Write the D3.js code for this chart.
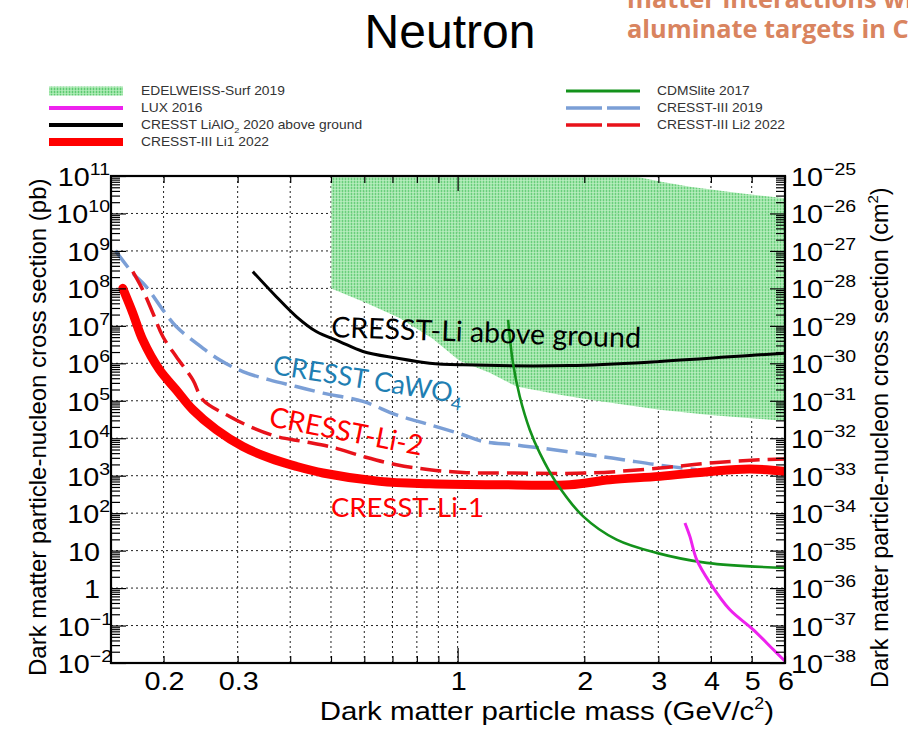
<!DOCTYPE html>
<html><head><meta charset="utf-8">
<script src="https://cdn.jsdelivr.net/npm/d3@7"></script>
<style>body{margin:0;background:#fff}svg{display:block}</style>
</head><body>
<svg id="c" width="908" height="729"></svg>
<script>
// ---------- data ----------
const xDomain = [0.15, 6];
const yDomainPb = [1e-2, 1e11];
const yDomainCm2 = [1e-38, 1e-25];
const xTicks = [0.2,0.3,0.4,0.5,0.6,0.7,0.8,0.9,1,2,3,4,5,6];
const xTickLabels = ["0.2","0.3","","","","","","","1","2","3","4","5","6"];
const yExpPb = [11,10,9,8,7,6,5,4,3,2,1,0,-1,-2];
const yExpCm2 = [-25,-26,-27,-28,-29,-30,-31,-32,-33,-34,-35,-36,-37,-38];

const li1Mass  = [0.160,0.169,0.1785,0.1956,0.2143,0.2348,0.2668,0.3087,0.3573,0.4136,0.4785,0.6528,0.858,1.237,1.848,2.30,3.025,3.98,4.953,6.0];
const li1Sigma = [1.0e8,2.2e7,4.2e6,6.7e5,1.96e5,5.75e4,1.69e4,6.0e3,2.96e3,1.77e3,1.18e3,705,612,575,575,782,958,1.30e3,1.51e3,1.30e3];

const li2Mass  = [0.169,0.1785,0.1886,0.1992,0.2143,0.2348,0.2480,0.2871,0.3202,0.3707,0.4288,0.4963,0.5957,0.7153,0.858,1.03,1.354,2.062,3.025,3.98,5.23,6.0];
const li2Sigma = [2.8e8,9.1e7,2.2e7,5.2e6,1.52e6,3.6e5,1.06e5,3.8e4,2.07e4,1.12e4,8.2e3,6.0e3,3.27e3,1.96e3,1.45e3,1.22e3,1.18e3,1.18e3,1.6e3,2.18e3,2.67e3,2.79e3];

const caMass  = [0.1537,0.169,0.1818,0.1992,0.2143,0.2392,0.2716,0.3087,0.3573,0.4136,0.4785,0.5957,0.7153,0.858,1.03,1.149,1.354,1.568,2.062,2.474,2.971,3.70];
const caSigma = [1.02e9,2.54e8,1.12e8,2.67e7,9.6e6,3.46e6,1.24e6,6.0e5,3.6e5,2.4e5,1.6e5,9.6e4,4.2e4,2.3e4,1.24e4,8.2e3,6.7e3,5.5e3,3.6e3,2.67e3,1.96e3,1.45e3];

const aboveMass  = [0.326,0.3707,0.4136,0.4613,0.5243,0.5957,0.7153,0.858,1.03,1.848,3.025,5.23,6.0];
const aboveSigma = [2.8e8,6.0e7,1.77e7,7.05e6,3.81e6,2.07e6,1.38e6,1.01e6,9.1e5,8.7e5,1.12e6,1.69e6,1.87e6];

const cdmsMass  = [1.318,1.354,1.405,1.484,1.568,1.718,1.988,2.387,2.971,3.907,6.0];
const cdmsSigma = [1.45e7,1.01e6,1.30e5,1.69e4,4.0e3,638,82,19.6,8.7,4.7,3.46];

const luxMass  = [3.47,3.565,3.70,3.98,4.434,5.04,5.626,6.0];
const luxSigma = [54.8,24,5.75,1.38,0.267,0.078,0.0229,0.0112];

const edwLowMass  = [0.501,0.607,0.728,0.873,1.01,1.192,1.380,1.750,2.062,3.025,3.98,6.0];
const edwLowSigma = [1.0e8,4.1e7,1.63e7,4.5e6,1.17e6,5.6e5,2.4e5,1.45e5,1.06e5,5.75e4,4.2e4,2.9e4];
const edwUpMass   = [0.501,2.61,3.025,3.565,4.69,6.0];
const edwUpSigma  = [1.0e11,1.0e11,7.1e10,5.2e10,3.46e10,2.54e10];

const legendLeft  = ["EDELWEISS-Surf 2019","LUX 2016","CRESST LiAlO|2| 2020 above ground","CRESST-III Li1 2022"];
const legendRight = ["CDMSlite 2017","CRESST-III 2019","CRESST-III Li2 2022"];

// ---------- setup ----------
const svg = d3.select("#c");
const L=111, R=785, T=176, B=663;
const SX = 1.15;
const sans = "'Liberation Sans', Arial, Helvetica, sans-serif";
const x = d3.scaleLog().domain(xDomain).range([L,R]);
const y = d3.scaleLog().domain(yDomainPb).range([B,T]);
const yR = d3.scaleLog().domain(yDomainCm2).range([B,T]);
const zip = (m,s)=>m.map((v,i)=>[v,s[i]]);

const defs = svg.append("defs");
defs.append("clipPath").attr("id","plot").append("rect").attr("x",L).attr("y",T).attr("width",R-L).attr("height",B-T);
const pat = defs.append("pattern").attr("id","edw").attr("width",3).attr("height",3).attr("patternUnits","userSpaceOnUse");
pat.append("rect").attr("width",3).attr("height",3).attr("fill","#98e3a3");
pat.append("rect").attr("width",1).attr("height",3).attr("fill","#5fca72");
pat.append("rect").attr("width",3).attr("height",1).attr("fill","#c2f0c7").attr("opacity",0.6);

// title texts
svg.append("text").attr("x",450).attr("y",48).attr("text-anchor","middle")
  .attr("font-family",sans).attr("font-size",48).attr("fill","#000").text("Neutron");
const orange = "#d9845f";
svg.append("text").attr("x",627).attr("y",8).attr("font-family","'Open Sans', sans-serif").attr("font-weight",700)
  .attr("font-size",25.4).attr("fill",orange).text("matter interactions with lithium");
svg.append("text").attr("x",627).attr("y",38).attr("font-family","'Open Sans', sans-serif").attr("font-weight",700)
  .attr("font-size",25.4).attr("fill",orange).text("aluminate targets in CRESST");

// ---------- legend ----------
const legRowY = [91,108,125,142];
function legendText(xp, yp, str){
  const t = svg.append("text").attr("transform",`translate(${xp},${yp+4}) scale(${SX},1)`)
    .attr("font-family",sans).attr("font-size",12).attr("fill","#333");
  const parts = str.split("|");
  parts.forEach((p,i)=>{
    if(i%2===1) t.append("tspan").attr("dy",4).attr("font-size",8).text(p);
    else if(i>0) t.append("tspan").attr("dy",-4).text(p);
    else t.append("tspan").text(p);
  });
}
svg.append("rect").attr("x",49).attr("y",legRowY[0]-4.5).attr("width",74).attr("height",9).attr("fill","url(#edw)");
svg.append("line").attr("x1",49).attr("x2",123).attr("y1",legRowY[1]).attr("y2",legRowY[1]).attr("stroke","#ee22ee").attr("stroke-width",4);
svg.append("line").attr("x1",49).attr("x2",123).attr("y1",legRowY[2]).attr("y2",legRowY[2]).attr("stroke","#000").attr("stroke-width",4);
svg.append("line").attr("x1",49).attr("x2",123).attr("y1",legRowY[3]).attr("y2",legRowY[3]).attr("stroke","#ff0000").attr("stroke-width",8);
legendLeft.forEach((s,i)=>legendText(141,legRowY[i],s));
svg.append("line").attr("x1",566).attr("x2",640).attr("y1",legRowY[0]).attr("y2",legRowY[0]).attr("stroke","#13921b").attr("stroke-width",3);
svg.append("line").attr("x1",566).attr("x2",640).attr("y1",legRowY[1]).attr("y2",legRowY[1]).attr("stroke","#7b9fd6").attr("stroke-width",3.5).attr("stroke-dasharray","36,5");
svg.append("line").attr("x1",566).attr("x2",640).attr("y1",legRowY[2]).attr("y2",legRowY[2]).attr("stroke","#e8121a").attr("stroke-width",3.5).attr("stroke-dasharray","36,5");
legendRight.forEach((s,i)=>legendText(657,legRowY[i],s));

// ---------- grid ----------
const grid = svg.append("g").attr("stroke","#222").attr("stroke-width",1).attr("stroke-dasharray","2,3");
yExpPb.filter(e=>e<11&&e>-2).forEach(e=>{
  grid.append("line").attr("x1",L).attr("x2",R).attr("y1",y(10**e)).attr("y2",y(10**e));
});
xTicks.filter(v=>v<6).forEach(v=>{
  grid.append("line").attr("x1",x(v)).attr("x2",x(v)).attr("y1",T).attr("y2",B);
});

// ---------- curves ----------
const plot = svg.append("g").attr("clip-path","url(#plot)");
const line = d3.line().x(d=>x(d[0])).y(d=>y(d[1])).curve(d3.curveCatmullRom.alpha(0.5));
const poly = d3.line().x(d=>x(d[0])).y(d=>y(d[1]));

const edwPts = zip(edwLowMass,edwLowSigma).concat(zip(edwUpMass,edwUpSigma).reverse());
plot.append("path").attr("d",poly(edwPts)+"Z").attr("fill","url(#edw)").attr("opacity",0.93);

plot.append("path").attr("d",line(zip(caMass,caSigma))).attr("fill","none").attr("stroke","#7b9fd6")
  .attr("stroke-width",3.5).attr("stroke-dasharray","21,8");
plot.append("path").attr("d",line(zip(aboveMass,aboveSigma))).attr("fill","none").attr("stroke","#000").attr("stroke-width",3);
plot.append("path").attr("d",line(zip(li1Mass,li1Sigma))).attr("fill","none").attr("stroke","#ff0000")
  .attr("stroke-width",9).attr("stroke-linecap","round");
plot.append("path").attr("d",line(zip(li2Mass,li2Sigma))).attr("fill","none").attr("stroke","#e8121a")
  .attr("stroke-width",3.5).attr("stroke-dasharray","21,8");
plot.append("path").attr("d",line(zip(cdmsMass,cdmsSigma))).attr("fill","none").attr("stroke","#13921b").attr("stroke-width",2.6);
plot.append("path").attr("d",line(zip(luxMass,luxSigma))).attr("fill","none").attr("stroke","#ee22ee").attr("stroke-width",3);

// ---------- axes (ticks) ----------
const majY = yExpPb.map(e=>10**e);
const minY = [];
for(let e=-2;e<11;e++) for(let k=2;k<10;k++) minY.push(k*10**e);
const majYR = yExpCm2.map(e=>10**e);
const minYR = [];
for(let e=-38;e<-25;e++) for(let k=2;k<10;k++) minYR.push(k*10**e);

function styleAxis(g){ g.select(".domain").remove(); g.selectAll(".tick line").attr("stroke","#000").attr("stroke-width",1.2); g.selectAll(".tick text").remove(); }
svg.append("g").attr("transform",`translate(${L},0)`).call(d3.axisRight(y).tickValues(majY).tickSize(15).tickFormat("")).call(styleAxis);
svg.append("g").attr("transform",`translate(${L},0)`).call(d3.axisRight(y).tickValues(minY).tickSize(9).tickFormat("")).call(styleAxis);
svg.append("g").attr("transform",`translate(${R},0)`).call(d3.axisLeft(yR).tickValues(majYR).tickSize(15).tickFormat("")).call(styleAxis);
svg.append("g").attr("transform",`translate(${R},0)`).call(d3.axisLeft(yR).tickValues(minYR).tickSize(9).tickFormat("")).call(styleAxis);
svg.append("g").attr("transform",`translate(0,${B})`).call(d3.axisTop(x).tickValues(xTicks.filter(v=>v!==1)).tickSize(7).tickFormat("")).call(styleAxis);
svg.append("g").attr("transform",`translate(0,${B})`).call(d3.axisTop(x).tickValues([1]).tickSize(15).tickFormat("")).call(styleAxis);
svg.append("g").attr("transform",`translate(0,${T})`).call(d3.axisBottom(x).tickValues(xTicks.filter(v=>v!==1)).tickSize(7).tickFormat("")).call(styleAxis);
svg.append("g").attr("transform",`translate(0,${T})`).call(d3.axisBottom(x).tickValues([1]).tickSize(15).tickFormat("")).call(styleAxis);

svg.append("rect").attr("x",L).attr("y",T).attr("width",R-L).attr("height",B-T).attr("fill","none").attr("stroke","#000").attr("stroke-width",2.2);

// ---------- tick labels ----------
const supTxt = e => e<0 ? "\u2212"+(-e) : String(e);
function expLabel(xp, yp, anchor, e){
  const t = svg.append("text").attr("transform",`translate(${xp},${yp}) scale(${SX},1)`).attr("text-anchor",anchor)
    .attr("font-family",sans).attr("font-size",25).attr("fill","#000");
  if(e===0) t.text("1");
  else if(e===1) t.text("10");
  else { t.append("tspan").text("10"); t.append("tspan").attr("dy",-11).attr("font-size",17).text(supTxt(e)); }
}
yExpPb.forEach(e=>{
  const xp = (e===0||e===1) ? 100 : (e<0 ? 112 : 110);
  expLabel(xp, y(10**e)+10, "end", e);
});
yExpCm2.forEach(e=>expLabel(791, yR(10**e)+10, "start", e));

xTicks.forEach((v,i)=>{
  if(!xTickLabels[i]) return;
  svg.append("text").attr("transform",`translate(${x(v)+1},690) scale(${SX},1)`).attr("text-anchor","middle")
    .attr("font-family",sans).attr("font-size",25).attr("fill","#000").text(xTickLabels[i]);
});

// axis titles
const xt = svg.append("text").attr("transform",`translate(774,720) scale(1.11,1)`).attr("text-anchor","end")
  .attr("font-family",sans).attr("font-size",26.5).attr("fill","#000");
xt.append("tspan").text("Dark matter particle mass (GeV/c");
xt.append("tspan").attr("dy",-11).attr("font-size",16).text("2");
xt.append("tspan").attr("dy",11).text(")");

svg.append("text").attr("transform",`translate(46,676) rotate(-90)`).attr("text-anchor","start")
  .attr("font-family",sans).attr("font-size",24).attr("fill","#000").text("Dark matter particle-nucleon cross section (pb)");
const rt = svg.append("text").attr("transform",`translate(888,688) rotate(-90)`).attr("text-anchor","start")
  .attr("font-family",sans).attr("font-size",23.5).attr("fill","#000");
rt.append("tspan").text("Dark matter particle-nucleon cross section (cm");
rt.append("tspan").attr("dy",-10).attr("font-size",15).text("2");
rt.append("tspan").attr("dy",10).text(")");

// ---------- in-plot labels ----------
const lato = "Lato, 'Open Sans', sans-serif";
svg.append("text").attr("transform","translate(331,337) rotate(2)").attr("font-family",lato).attr("font-size",28.5)
  .attr("fill","#000").text("CRESST-Li above ground");
const ca = svg.append("text").attr("transform","translate(272,374) rotate(9)").attr("font-family",lato).attr("font-size",27)
  .attr("fill","#1f7fb3");
ca.append("tspan").text("CRESST CaWO");
ca.append("tspan").attr("dy",7).attr("font-size",18).text("4");
svg.append("text").attr("transform","translate(268,426) rotate(11)").attr("font-family",lato).attr("font-size",28)
  .attr("fill","#ff0000").text("CRESST-Li-2");
svg.append("text").attr("x",331).attr("y",517).attr("font-family",lato).attr("font-size",27.5)
  .attr("fill","#ff0000").text("CRESST-Li-1");
</script>
</body></html>
